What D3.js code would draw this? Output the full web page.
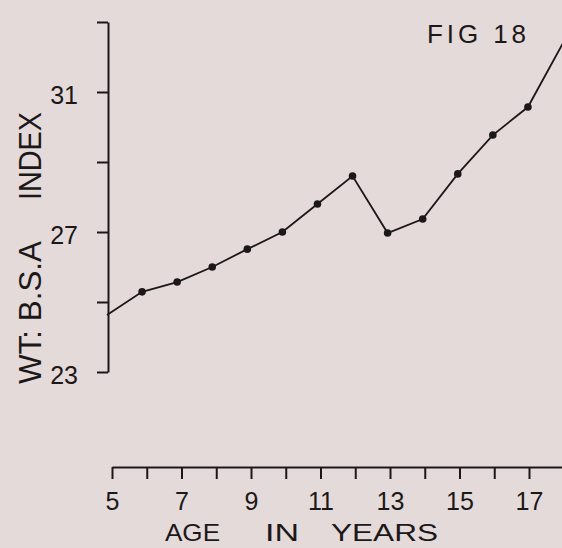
<!DOCTYPE html>
<html>
<head>
<meta charset="utf-8">
<script src="https://cdn.jsdelivr.net/npm/d3@7"></script>
<style>
  html, body { margin: 0; padding: 0; background: #e4dada; }
  svg { display: block; }
  text { font-family: "Liberation Sans", Arial, sans-serif; fill: #1c1818; }
</style>
</head>
<body>
<svg id="chart" width="562" height="548"></svg>
<script>
// Age in years and the weight : body-surface-area index at each age
const ages = [5, 6, 7, 8, 9, 10, 11, 12, 13, 14, 15, 16, 17, 18];
const wtBsaIndex = [24.63, 25.29, 25.57, 26.0, 26.51, 27.0, 27.8, 28.6, 26.97, 27.37, 28.66, 29.77, 30.57, 32.4];

const yTicks = [23, 25, 27, 29, 31, 33];
const yTickLabels = [23, 27, 31];
const xTicks = [5, 6, 7, 8, 9, 10, 11, 12, 13, 14, 15, 16, 17];
const xTickLabels = [5, 7, 9, 11, 13, 15, 17];

const ink = "#1c1818";
const svg = d3.select("#chart");

const y = d3.scaleLinear().domain([23, 33]).range([372, 22]);
const x = d3.scaleLinear().domain([5, 18]).range([107, 563]);
// the age axis is ruled separately below the plot
const xAxisScale = d3.scaleLinear().domain([5, 18]).range([112, 563.75]);

// vertical axis
const yAxis = svg.append("g")
  .attr("transform", "translate(108,0)")
  .call(d3.axisLeft(y)
    .tickValues(yTicks)
    .tickSize(11)
    .tickSizeOuter(0)
    .tickPadding(19)
    .tickFormat(d => yTickLabels.includes(d) ? String(d) : ""));
yAxis.selectAll("path, line").attr("stroke", ink).attr("stroke-width", 2);
yAxis.selectAll("text")
  .attr("fill", ink)
  .style("font-size", "25px")
  .attr("dy", "0.45em");

// horizontal axis
const xAxis = svg.append("g")
  .attr("transform", "translate(0,467)")
  .call(d3.axisBottom(xAxisScale)
    .tickValues(xTicks)
    .tickSize(12)
    .tickSizeOuter(0)
    .tickPadding(13)
    .tickFormat(d => xTickLabels.includes(d) ? String(d) : ""));
xAxis.selectAll("path, line").attr("stroke", ink).attr("stroke-width", 2);
xAxis.selectAll("text")
  .attr("fill", ink)
  .style("font-size", "25px");

// data line
const pts = ages.map((a, i) => ({ age: a, v: wtBsaIndex[i] }));
svg.append("path")
  .datum(pts)
  .attr("fill", "none")
  .attr("stroke", ink)
  .attr("stroke-width", 1.8)
  .attr("d", d3.line().x(d => x(d.age)).y(d => y(d.v)));

svg.selectAll("circle.pt")
  .data(pts.slice(1, -1))
  .join("circle")
  .attr("class", "pt")
  .attr("cx", d => x(d.age))
  .attr("cy", d => y(d.v))
  .attr("r", 3.8)
  .attr("fill", ink);

// axis titles
const yTitle = svg.append("g").attr("transform", "translate(41,0) rotate(-90)");
yTitle.append("text")
  .attr("x", -384).attr("y", 0)
  .attr("textLength", 143).attr("lengthAdjust", "spacingAndGlyphs")
  .style("font-size", "31px")
  .text("WT: B.S.A");
yTitle.append("text")
  .attr("x", -200).attr("y", 0)
  .attr("textLength", 88).attr("lengthAdjust", "spacingAndGlyphs")
  .style("font-size", "31px")
  .text("INDEX");

const xTitleWords = [
  { t: "AGE", x0: 165, w: 55 },
  { t: "IN", x0: 265, w: 34 },
  { t: "YEARS", x0: 331, w: 107 }
];
svg.selectAll("text.xtitle")
  .data(xTitleWords)
  .join("text")
  .attr("class", "xtitle")
  .attr("x", d => d.x0)
  .attr("y", 541)
  .attr("textLength", d => d.w)
  .attr("lengthAdjust", "spacingAndGlyphs")
  .style("font-size", "24px")
  .text(d => d.t);

// figure number
svg.append("text")
  .attr("x", 427).attr("y", 43)
  .attr("textLength", 99).attr("lengthAdjust", "spacing")
  .style("font-size", "26px")
  .text("FIG 18");
</script>
</body>
</html>
